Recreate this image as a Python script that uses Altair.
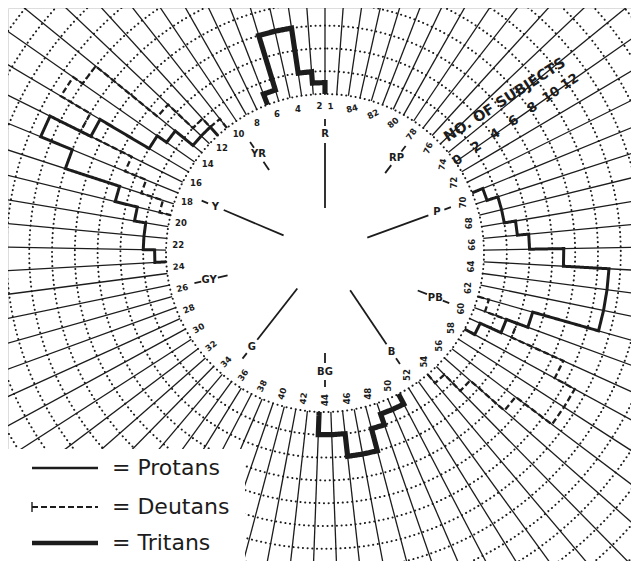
import math
import pandas as pd
import altair as alt

# ---------------- data ----------------
N_CAPS = 85
CAP_DEG = 360.0 / N_CAPS

# number of subjects per cap (index 0 = cap 1)
protans = [0, 0, 0, 0, 0, 0, 0, 0, 0, 0,
           0, 1, 1, 3, 4, 9, 13, 10, 5, 3,
           2, 2, 1, 0, 0, 0, 0, 0, 0, 0,
           0, 0, 0, 0, 0, 0, 0, 0, 0, 0,
           0, 0, 0, 0, 0, 0, 0, 0, 0, 0,
           0, 0, 0, 0, 0, 0, 0, 0, 1, 3,
           5, 11, 11, 11, 7, 4, 3, 2, 2, 1,
           0, 0, 0, 0, 0, 0, 0, 0, 0, 0,
           0, 0, 0, 0, 0]
deutans = [0, 0, 0, 0, 0, 0, 0, 0, 0, 0,
           1, 2, 5, 12, 13, 10, 5, 3, 1, 0,
           0, 0, 0, 0, 0, 0, 0, 0, 0, 0,
           0, 0, 0, 0, 0, 0, 0, 0, 0, 0,
           0, 0, 0, 0, 0, 0, 0, 0, 0, 0,
           0, 0, 0, 1, 3, 7, 11, 11, 9, 4,
           1, 0, 0, 0, 0, 0, 0, 0, 0, 0,
           0, 0, 0, 0, 0, 0, 0, 0, 0, 0,
           0, 0, 0, 0, 0]
tritans = [0, 1, 2, 6, 6, 1, 0, 0, 0, 0,
           0, 0, 0, 0, 0, 0, 0, 0, 0, 0,
           0, 0, 0, 0, 0, 0, 0, 0, 0, 0,
           0, 0, 0, 0, 0, 0, 0, 0, 0, 0,
           0, 0, 0, 2, 2, 4, 4, 2, 1, 1,
           0, 0, 0, 0, 0, 0, 0, 0, 0, 0,
           0, 0, 0, 0, 0, 0, 0, 0, 0, 0,
           0, 0, 0, 0, 0, 0, 0, 0, 0, 0,
           0, 0, 0, 0, 0]
groups = ["Protans", "Deutans", "Tritans"]

cap_labels = [1] + list(range(2, 85, 2))
hue_letters = ["R", "YR", "Y", "GY", "G", "BG", "B", "PB", "P", "RP"]
hue_angles = [0, 34, 67, 103, 142, 180, 214, 248, 290, 323]
main_hues = ["R", "Y", "G", "B", "P"]
subject_ticks = [0, 2, 4, 6, 8, 10, 12]
rings = list(range(0, 28, 2))

# ---------------- geometry / style ----------------
W, H = 623, 553          # plot area
CX, CY = 317, 245        # centre of the hue circle inside the plot area
R0 = 159.0               # radius of the 0-subject circle
STEP = 11.4              # radius per subject
INK = "#1c1c1c"
DASH = {"Protans": [1, 0], "Deutans": [6, 3], "Tritans": [1, 0]}
WIDTH = {"Protans": 3.0, "Deutans": 2.3, "Tritans": 5.2}

xs = alt.Scale(domain=[-CX, W - CX], nice=False, zero=False)
ys = alt.Scale(domain=[-(H - CY), CY], nice=False, zero=False)


def polar(expr_r, expr_t, out_x, out_y):
    return {
        out_x: f"-({expr_r}) * sin(({expr_t}) * PI / 180)",
        out_y: f"({expr_r}) * cos(({expr_t}) * PI / 180)",
    }


def XY(xf="x", yf="y"):
    return dict(x=alt.X(f"{xf}:Q", scale=xs, axis=None),
                y=alt.Y(f"{yf}:Q", scale=ys, axis=None))


# dotted subject circles
ring_rows = [dict(ring=n, t=a) for n in rings for a in range(0, 362, 2)]
ring_df = pd.DataFrame(ring_rows)
rings_layer = alt.Chart(ring_df).transform_calculate(
    **polar(f"{R0} + {STEP} * datum.ring", "datum.t", "x", "y")
).mark_line(clip=True, color=INK, strokeWidth=2.0, strokeDash=[0.1, 4.6],
            strokeCap="round").encode(
    **XY(), detail="ring:N", order="t:Q")

# radial cap boundaries
bound_df = pd.DataFrame({"j": list(range(N_CAPS))})
bound_df["t"] = bound_df["j"] * CAP_DEG
radial_layer = alt.Chart(bound_df).transform_calculate(
    **polar(f"{R0}", "datum.t", "x", "y"),
    **polar("520", "datum.t", "x2", "y2"),
).mark_rule(clip=True, color=INK, strokeWidth=1.3).encode(
    **XY(), x2="x2:Q", y2="y2:Q")

# white card for legend (grid does not run under it)
card = alt.Chart(pd.DataFrame({"a": [0]})).mark_rect(color="white").encode(
    x=alt.value(-8), x2=alt.value(237), y=alt.value(441), y2=alt.value(H + 8))


# histogram outlines
def outline_rows(name, counts):
    rows, seg, order, in_run, prev_hi = [], 0, 0, False, 0.0
    for i, c in enumerate(counts + [0]):
        cap = i + 1
        lo = (cap - 2) * CAP_DEG
        hi = (cap - 1) * CAP_DEG
        if c > 0:
            if not in_run:
                seg += 1
                in_run = True
                rows.append(dict(group=name, seg=f"{name}{seg}", o=order, t=lo, n=0)); order += 1
            rows.append(dict(group=name, seg=f"{name}{seg}", o=order, t=lo, n=c)); order += 1
            rows.append(dict(group=name, seg=f"{name}{seg}", o=order, t=hi, n=c)); order += 1
            prev_hi = hi
        elif in_run:
            rows.append(dict(group=name, seg=f"{name}{seg}", o=order, t=prev_hi, n=0)); order += 1
            in_run = False
    return rows


hist_layers = []
for g, counts in zip(groups, [protans, deutans, tritans]):
    df = pd.DataFrame(outline_rows(g, counts))
    hist_layers.append(alt.Chart(df).transform_calculate(
        **polar(f"{R0} + {STEP} * datum.n", "datum.t", "x", "y")
    ).mark_line(clip=True, color=INK, strokeWidth=WIDTH[g], strokeDash=DASH[g],
                strokeJoin="miter", strokeCap="butt").encode(
        **XY(), detail="seg:N", order="o:Q"))

# legend (drawn by hand on the white card)
legend_rows = [460, 499, 535]
legend_w = {"Protans": 2.5, "Deutans": 2.0, "Tritans": 4.6}
legend_layers = []
for g, yv in zip(groups, legend_rows):
    one = pd.DataFrame({"label": [f"= {g}"]})
    legend_layers.append(alt.Chart(one).mark_rule(
        color=INK, strokeWidth=legend_w[g], strokeDash=DASH[g]).encode(
        x=alt.value(24), x2=alt.value(90), y=alt.value(yv)))
    legend_layers.append(alt.Chart(one).mark_text(
        font="DejaVu Sans", fontSize=22, color=INK, align="left", baseline="middle"
    ).encode(x=alt.value(104), y=alt.value(yv), text="label:N"))
legend_layers.append(alt.Chart(pd.DataFrame({"a": [0]})).mark_rule(
    color=INK, strokeWidth=1.4).encode(x=alt.value(24), y=alt.value(494), y2=alt.value(504)))


# cap number labels
def label_angle(t):
    t = t % 360
    if t <= 90:
        return 0
    if t <= 180:
        return (90 - t) % 360
    if t <= 300:
        return 270
    return (1.5 * (t - 360)) % 360


lab_df = pd.DataFrame({"cap": cap_labels})
lab_df["t"] = (lab_df["cap"] - 1.5) * CAP_DEG
lab_df["ang"] = lab_df["t"].apply(label_angle)
cap_layer = alt.Chart(lab_df).transform_calculate(
    **polar("147", "datum.t", "x", "y")
).mark_text(font="DejaVu Sans", fontSize=8.5, fontWeight="bold", color=INK,
            baseline="middle", align="center").encode(
    **XY(), text="cap:N", angle=alt.Angle("ang:Q", scale=None))

# hue letters and spokes
hue_df = pd.DataFrame({"hue": hue_letters, "t": hue_angles})
hue_df["main"] = hue_df["hue"].isin(main_hues)
letter_layer = alt.Chart(hue_df).transform_calculate(
    **polar("119", "datum.t", "x", "y")
).mark_text(font="DejaVu Sans", fontSize=10, fontWeight="bold", color=INK,
            baseline="middle", align="center").encode(**XY(), text="hue:N")

spoke_layer = alt.Chart(hue_df).transform_calculate(
    r1="datum.main ? 45 : 100", r2="110"
).transform_calculate(
    **polar("datum.r1", "datum.t", "x", "y"),
    **polar("datum.r2", "datum.t", "x2", "y2"),
).mark_rule(color=INK, strokeWidth=1.8).encode(**XY(), x2="x2:Q", y2="y2:Q")

tick_layer = alt.Chart(hue_df).transform_calculate(
    **polar("127", "datum.t", "x", "y"),
    **polar("134", "datum.t", "x2", "y2"),
).mark_rule(color=INK, strokeWidth=1.8).encode(**XY(), x2="x2:Q", y2="y2:Q")

# number-of-subjects scale
sub_df = pd.DataFrame({"n": subject_ticks})
sub_layer = alt.Chart(sub_df).transform_calculate(
    **polar(f"{R0} + 3 + {STEP} * datum.n", "305", "x", "y")
).mark_text(font="DejaVu Sans", fontSize=13, fontWeight="bold", color=INK,
            angle=327, baseline="middle", align="center").encode(**XY(), text="n:N")

title_df = pd.DataFrame({"txt": ["NO. OF SUBJECTS"]})
title_layer = alt.Chart(title_df).transform_calculate(
    **polar("236", "310.3", "x", "y")
).mark_text(font="DejaVu Sans", fontSize=14.5, fontWeight="bold", color=INK,
            angle=327, baseline="middle", align="center").encode(**XY(), text="txt:N")

chart = alt.layer(
    rings_layer, radial_layer, card, *hist_layers, cap_layer, letter_layer,
    spoke_layer, tick_layer, sub_layer, title_layer, *legend_layers
).properties(
    width=W, height=H, padding=0,
    autosize=alt.AutoSizeParams(type="none"),
).configure_view(stroke=None).configure(background="white")

chart.save("out.html", embed_options={"renderer": "svg", "actions": False})
